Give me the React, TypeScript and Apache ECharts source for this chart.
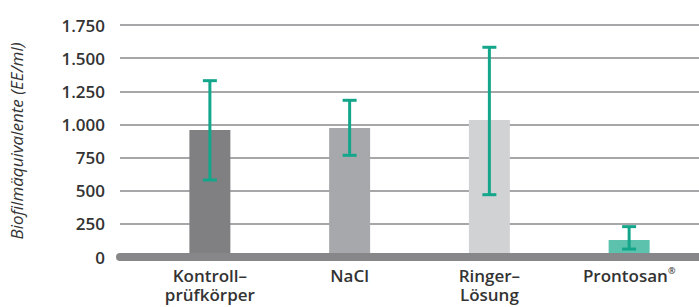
import React, { useEffect, useRef } from "react";
import * as echarts from "echarts";

const categories = ["Kontroll–\nprüfkörper", "NaCl", "Ringer–\nLösung", "Prontosan{sup|®}"];
const means = [958, 973, 1033, 128];
const errLow = [581, 767, 470, 60];
const errHigh = [1330, 1182, 1582, 229];
const barColors = ["#808083", "#a7a8ab", "#d1d2d4", "#5cc2ae"];
const yTicks = { min: 0, max: 1750, interval: 250 };

const fmt = (v: number) => {
  const s = String(Math.round(v));
  return s.length > 3 ? s.slice(0, s.length - 3) + "." + s.slice(-3) : s;
};

export default function App() {
  const ref = useRef<HTMLDivElement>(null);
  useEffect(() => {
    if (!ref.current) return;
    const chart = echarts.init(ref.current, null, { renderer: "svg" });
    const font = "'Open Sans', 'DejaVu Sans', sans-serif";
    chart.setOption({
      animation: false,
      textStyle: { fontFamily: font },
      grid: [
        { left: 140, right: -1, top: 25, bottom: 50 },
        { left: 115, right: 0, top: 25, bottom: 50 },
      ],
      xAxis: [
        {
          type: "category",
          gridIndex: 0,
          data: categories,
          axisLine: { show: false },
          axisTick: { show: false },
          axisLabel: {
            interval: 0,
            margin: 9,
            color: "#333",
            fontSize: 17,
            fontWeight: 600,
            fontFamily: font,
            lineHeight: 19,
            rich: {
              sup: { fontSize: 9, verticalAlign: "top", lineHeight: 10, color: "#333", fontWeight: 600 },
            },
          },
        },
        {
          type: "category",
          gridIndex: 1,
          data: [""],
          axisLine: { show: true, lineStyle: { color: "#87878a", width: 8 } },
          axisTick: { show: false },
          axisLabel: { show: false },
          z: 5,
        },
      ],
      yAxis: [
        {
          type: "value",
          gridIndex: 0,
          ...yTicks,
          axisLine: { show: false },
          axisTick: { show: false },
          axisLabel: { show: false },
          splitLine: { show: false },
        },
        {
          type: "value",
          gridIndex: 1,
          ...yTicks,
          name: "Biofilmäquivalente (EE/ml)",
          nameLocation: "middle",
          nameGap: 95,
          nameTextStyle: { fontStyle: "italic", fontSize: 17, color: "#333", fontFamily: font },
          axisLine: { show: false },
          axisTick: { show: false },
          axisLabel: {
            margin: 15,
            color: "#333",
            fontSize: 17,
            fontWeight: 600,
            fontFamily: font,
            formatter: (v: number) => fmt(v),
          },
          splitLine: { show: true, lineStyle: { color: "#8a8a8c", width: 1.5 } },
        },
      ],
      series: [
        {
          type: "bar",
          xAxisIndex: 0,
          yAxisIndex: 0,
          barWidth: 41,
          data: means.map((v, i) => ({ value: v, itemStyle: { color: barColors[i] } })),
          z: 3,
        },
        {
          type: "custom",
          xAxisIndex: 0,
          yAxisIndex: 0,
          z: 10,
          data: categories.map((_, i) => [i, errLow[i], errHigh[i]]),
          renderItem: (params: any, api: any) => {
            const x = api.value(0);
            const lo = api.coord([x, api.value(1)]);
            const hi = api.coord([x, api.value(2)]);
            const hw = 7;
            const style = { stroke: "#14a68a", lineWidth: 3, fill: "none" };
            return {
              type: "group",
              children: [
                { type: "line", shape: { x1: lo[0], y1: lo[1], x2: hi[0], y2: hi[1] }, style },
                { type: "line", shape: { x1: lo[0] - hw, y1: lo[1], x2: lo[0] + hw, y2: lo[1] }, style },
                { type: "line", shape: { x1: hi[0] - hw, y1: hi[1], x2: hi[0] + hw, y2: hi[1] }, style },
              ],
            };
          },
        },
      ],
    });
    return () => chart.dispose();
  }, []);
  return <div ref={ref} style={{ width: 699, height: 307, position: "absolute", left: 0, top: 0 }} />;
}
